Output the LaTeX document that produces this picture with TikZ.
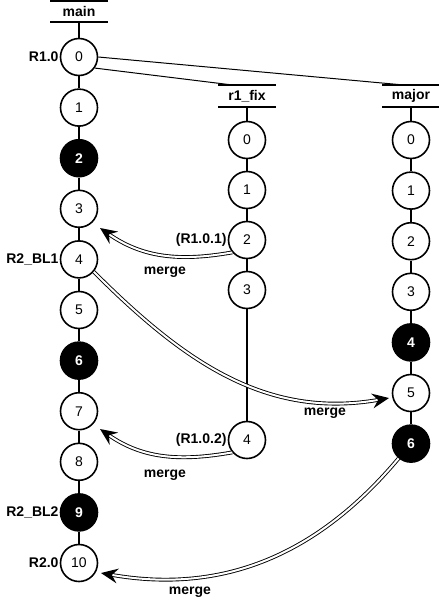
\documentclass[tikz,border=0pt]{standalone}
\usepackage{fontspec}
\setmainfont{Liberation Sans}
\usetikzlibrary{arrows.meta}
\begin{document}
\begin{tikzpicture}[x=1pt,y=-1pt,
  commit/.style={circle,draw,line width=1.6pt,minimum size=37pt,inner sep=0pt,fill=white,font=\fontsize{14}{14}\selectfont},
  hot/.style={commit,fill=black,text=white,font=\fontsize{14}{14}\selectfont\bfseries},
  head/.style={minimum width=57pt,minimum height=21pt,inner sep=0pt,font=\fontsize{14}{14}\selectfont\bfseries},
  headline/.style={line width=1.8pt},
  trunk/.style={line width=2.6pt},
  tag/.style={anchor=east,inner sep=1pt,font=\fontsize{14}{14}\selectfont\bfseries},
  lbl/.style={inner sep=1pt,font=\fontsize{14}{14}\selectfont\bfseries},
  merge/.style={line width=3.8pt,shorten >=10pt,
    postaction={draw,white,line width=2pt,shorten >=10pt}},
  mhead/.style={fill=black},
  branch/.style={line width=1pt}]
\useasboundingbox (0,0) rectangle (439,600);
% headers
\node[head] (hmain) at (79,11.5) {main};
\node[head] (hr) at (247,96) {r1\_fix};
\node[head] (hM) at (411,96) {major};
\foreach \h in {hmain,hr,hM}{
  \draw[headline] (\h.north west) -- (\h.north east);
  \draw[headline] (\h.south west) -- (\h.south east);
}
% main
\node[commit] (m0) at (79,57) {0};
\node[commit] (m1) at (79,107.6) {1};
\node[hot] (m2) at (79,158.2) {2};
\node[commit] (m3) at (79,208.8) {3};
\node[commit] (m4) at (79,259.4) {4};
\node[commit] (m5) at (79,310) {5};
\node[hot] (m6) at (79,360.6) {6};
\node[commit] (m7) at (79,411.2) {7};
\node[commit] (m8) at (79,461.8) {8};
\node[hot] (m9) at (79,512.4) {9};
\node[commit] (m10) at (79,563) {10};
\draw[trunk] (hmain) -- (m0) -- (m1) -- (m2) -- (m3) -- (m4) -- (m5) -- (m6) -- (m7) -- (m8) -- (m9) -- (m10);
% r1_fix
\node[commit] (r0) at (247,140) {0};
\node[commit] (r1) at (247,190) {1};
\node[commit] (r2) at (247,240) {2};
\node[commit] (r3) at (247,290) {3};
\node[commit] (r4) at (247,440) {4};
\draw[trunk] (hr) -- (r0) -- (r1) -- (r2) -- (r3) -- (r4);
% major
\node[commit] (M0) at (411,140) {0};
\node[commit] (M1) at (411,190.6) {1};
\node[commit] (M2) at (411,241.2) {2};
\node[commit] (M3) at (411,291.8) {3};
\node[hot] (M4) at (411,342.4) {4};
\node[commit] (M5) at (411,393) {5};
\node[hot] (M6) at (411,443.6) {6};
\draw[trunk] (hM) -- (M0) -- (M1) -- (M2) -- (M3) -- (M4) -- (M5) -- (M6);
% branch lines
\draw[branch] (m0.east) -- ([xshift=-4pt]hM.north);
\draw[branch] (m0.-35) -- ([xshift=-12pt]hr.north);
% tags
\node[tag] at (m0.west) {R1.0};
\node[tag] at (m4.west) {R2\_BL1};
\node[tag] at (m9.west) {R2\_BL2};
\node[tag] at (m10.west) {R2.0};
\node[tag] at (r2.west) {(R1.0.1)};
\node[tag] at (r4.west) {(R1.0.2)};
% merge tips
\coordinate (t3) at (100,228);
\coordinate (t5) at (389,398);
\coordinate (t7) at (100,429);
\coordinate (t10) at (101,573);
% merges
\draw[merge] (r2.220) to[out=190,in=-35] (t3);
\draw[merge] (m4.-40) to[out=-45,in=190] (t5);
\draw[merge] (r4.220) to[out=190,in=-35] (t7);
\draw[merge] (M6.230) to[out=-130,in=-10] (t10);
% arrowheads (travel direction = in angle + 180)
\fill[mhead,shift={(t3)},rotate=145] (0,0) -- (-17,7.5) -- (-11,0) -- (-17,-7.5) -- cycle;
\fill[mhead,shift={(t5)},rotate=10] (0,0) -- (-17,7.5) -- (-11,0) -- (-17,-7.5) -- cycle;
\fill[mhead,shift={(t7)},rotate=145] (0,0) -- (-17,7.5) -- (-11,0) -- (-17,-7.5) -- cycle;
\fill[mhead,shift={(t10)},rotate=170] (0,0) -- (-17,7.5) -- (-11,0) -- (-17,-7.5) -- cycle;
\node[lbl] at (165,272) {merge};
\node[lbl] at (325,413) {merge};
\node[lbl] at (165,475) {merge};
\node[lbl] at (190,592) {merge};
\end{tikzpicture}
\end{document}
